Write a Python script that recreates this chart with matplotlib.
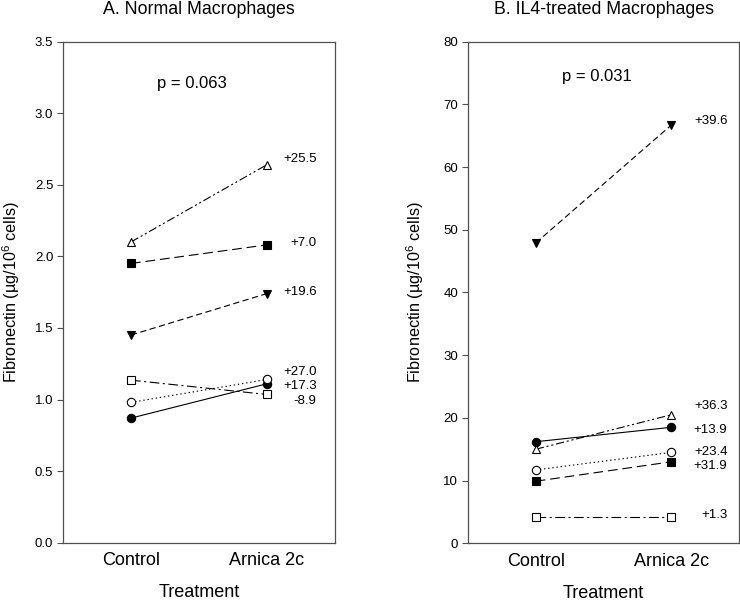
import numpy as np
import matplotlib
matplotlib.use("Agg")
import matplotlib.pyplot as plt

plt.rcParams["font.family"] = ["Liberation Sans", "DejaVu Sans"]
plt.rcParams["mathtext.fontset"] = "custom"
plt.rcParams["mathtext.rm"] = "Liberation Sans"
plt.rcParams["mathtext.default"] = "regular"
plt.rcParams["lines.scale_dashes"] = False

groups = ["Control", "Arnica 2c"]

# panel A: normal macrophages (control, arnica)
a_filled_circle = [0.87, 1.11]
a_open_circle = [0.98, 1.14]
a_filled_square = [1.95, 2.08]
a_open_square = [1.135, 1.035]
a_filled_tri = [1.45, 1.74]
a_open_tri = [2.10, 2.64]
a_changes = ["+17.3", "+27.0", "+7.0", "-8.9", "+19.6", "+25.5"]
a_label_y = [1.096, 1.194, 2.091, 0.992, 1.753, 2.677]

# panel B: IL4-treated macrophages
b_filled_circle = [16.2, 18.5]
b_open_circle = [11.7, 14.5]
b_filled_square = [9.9, 13.0]
b_open_square = [4.25, 4.25]
b_filled_tri = [47.9, 66.7]
b_open_tri = [15.0, 20.5]
b_changes = ["+13.9", "+23.4", "+31.9", "+1.3", "+39.6", "+36.3"]
b_label_y = [18.0, 14.6, 12.4, 4.5, 67.35, 21.9]

# marker, face, dash pattern per series
styles = [
    ("o", "black", None),
    ("o", "white", (1, 2)),
    ("s", "black", (7, 3.5)),
    ("s", "white", (7, 2.5, 1.5, 2.5)),
    ("v", "black", (4.5, 2.5)),
    ("^", "white", (6, 2, 1.5, 2, 1.5, 2)),
]

fig = plt.figure(figsize=(7.4, 6.01), dpi=100)
ax1 = fig.add_axes([63 / 740, 58.3 / 601, 272 / 740, 501.2 / 601])
ax2 = fig.add_axes([468 / 740, 57.7 / 601, 271 / 740, 501.6 / 601])

spine_col = "#505050"


def draw(ax, series, changes, label_y, ylim, yticks, fmt, title, ptext, pxy, lab_x, ylab_x):
    x = np.arange(1, len(groups) + 1)
    for vals, (mk, fc, dash) in zip(series, styles):
        ln, = ax.plot(x, vals, color="black", lw=0.8, marker=mk, markersize=6,
                      markerfacecolor=fc, markeredgecolor="black", markeredgewidth=0.8)
        if dash is not None:
            ln.set_dashes(dash)
    for txt, yy in zip(changes, label_y):
        ax.text(lab_x, yy, txt, ha="right", va="center", fontsize=9.5)
    ax.text(pxy[0], pxy[1], ptext, ha="center", va="center", fontsize=12)
    ax.set_xlim(0.5, 2.5)
    ax.set_ylim(*ylim)
    ax.set_yticks(yticks)
    ax.set_yticklabels([fmt.format(v) for v in yticks])
    ax.set_xticks(x)
    ax.set_xticklabels(groups, fontsize=13)
    ax.tick_params(axis="x", length=0, pad=7)
    ax.tick_params(axis="y", direction="out", length=4, width=0.8, color=spine_col,
                   labelsize=9.5, pad=3)
    for s in ax.spines.values():
        s.set_color(spine_col)
        s.set_linewidth(0.9)
    ax.set_title(title, fontsize=12.8, pad=20)
    ax.set_xlabel("Treatment", fontsize=13)
    ax.xaxis.set_label_coords(0.5, -0.10)
    ax.xaxis.label.set_va("center")
    ax.set_ylabel("Fibronectin (µg/10$^{6}$ cells)", fontsize=11.7)
    ax.yaxis.set_label_coords(ylab_x, 0.5)


draw(ax1,
     [a_filled_circle, a_open_circle, a_filled_square, a_open_square, a_filled_tri, a_open_tri],
     a_changes, a_label_y, (0, 3.5), np.arange(0, 3.51, 0.5), "{:.1f}",
     "A. Normal Macrophages", "p = 0.063", (1.45, 3.21), 2.365, -0.152)
draw(ax2,
     [b_filled_circle, b_open_circle, b_filled_square, b_open_square, b_filled_tri, b_open_tri],
     b_changes, b_label_y, (0, 80), np.arange(0, 81, 10), "{:.0f}",
     "B. IL4-treated Macrophages", "p = 0.031", (1.45, 74.4), 2.415, -0.155)

fig.savefig("out.png", dpi=100)
